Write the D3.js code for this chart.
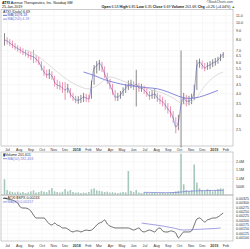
<!DOCTYPE html>
<html>
<head>
<meta charset="utf-8">
<script src="https://cdn.jsdelivr.net/npm/d3@7"></script>
<style>
  body { margin: 0; background: #fff; }
  svg { display: block; font-family: "Liberation Sans", Arial, sans-serif; }
</style>
</head>
<body>
<div id="chart"></div>
<script>
// weekly bars, first week ending 2017-06-23
const firstWeek = new Date(2017, 5, 23);

const close = [8.01, 7.91, 7.71, 7.51, 7.32, 7.18, 7.04, 6.86, 6.77, 6.60,
  6.52, 6.43, 6.27, 6.03, 5.65, 5.30, 5.10, 5.17, 5.04, 4.66,
  4.48, 4.43, 4.31, 4.20, 4.31, 3.99, 3.84, 3.69, 3.69, 3.74,
  3.84, 3.79, 3.74, 4.54, 5.58, 5.73, 5.95, 5.65, 5.17, 4.78,
  4.48, 4.15, 3.84, 3.84, 3.94, 4.15, 4.31, 4.48, 4.54, 4.43,
  4.54, 4.31, 4.31, 4.20, 4.04, 3.89, 3.94, 3.99, 3.79, 3.69,
  3.60, 3.46, 3.29, 3.16, 2.93, 2.61, 2.78, 3.46, 3.79, 3.64,
  3.64, 3.74, 4.10, 5.73, 6.03, 5.80, 5.58, 5.73, 5.80, 5.95,
  6.03, 6.19, 6.43, 6.69];
const high = [8.75, 8.30, 8.10, 7.95, 7.70, 7.50, 7.35, 7.20, 7.05, 6.95,
  6.90, 7.05, 6.60, 6.45, 6.10, 5.75, 5.45, 5.50, 5.35, 5.05,
  4.80, 4.70, 4.65, 4.66, 4.55, 4.30, 4.05, 3.90, 3.88, 3.95,
  4.05, 4.00, 3.95, 4.75, 5.80, 6.10, 6.20, 6.05, 5.70, 5.25,
  4.85, 4.55, 4.20, 4.05, 4.15, 4.35, 4.55, 4.75, 4.80, 4.70,
  5.45, 4.60, 4.55, 4.45, 4.30, 4.15, 4.20, 4.25, 4.05, 3.95,
  3.85, 3.70, 3.55, 3.40, 3.20, 2.95, 3.05, 7.00, 4.05, 3.95,
  3.90, 4.00, 4.50, 6.20, 6.30, 6.15, 5.95, 6.00, 6.10, 6.25,
  6.35, 6.45, 6.70, 6.85];
const low = [7.45, 7.55, 7.40, 7.20, 7.05, 6.90, 6.75, 6.60, 6.50, 6.35,
  6.20, 5.95, 6.00, 5.80, 5.40, 5.05, 4.90, 4.85, 4.80, 4.40,
  4.25, 4.20, 4.05, 3.70, 4.05, 3.80, 3.65, 3.55, 3.52, 3.55,
  3.60, 3.60, 3.58, 3.75, 4.50, 5.20, 5.40, 5.30, 4.90, 4.55,
  4.25, 3.95, 3.65, 3.65, 3.75, 3.90, 4.05, 4.20, 4.30, 4.20,
  3.40, 4.10, 4.10, 4.00, 3.85, 3.70, 3.75, 3.75, 3.60, 3.50,
  3.40, 3.25, 3.10, 2.95, 2.75, 2.40, 2.50, 2.00, 3.50, 3.40,
  3.45, 3.50, 3.70, 4.20, 5.60, 5.50, 5.35, 5.45, 5.50, 5.65,
  5.75, 5.90, 6.10, 6.35];
// volume in millions
const volume = [0.95, 0.30, 0.22, 0.18, 0.15, 0.20, 0.14, 0.18, 0.12, 0.16,
  0.22, 0.28, 0.15, 0.18, 0.25, 0.20, 0.17, 0.30, 0.42, 0.22,
  0.18, 0.15, 0.20, 0.35, 0.22, 0.30, 0.18, 0.14, 0.16, 0.12,
  0.15, 0.13, 0.18, 0.35, 0.40, 0.28, 0.25, 0.22, 0.18, 0.20,
  0.15, 0.17, 0.14, 0.12, 0.15, 0.18, 0.16, 1.45, 0.25, 0.18,
  0.30, 0.15, 0.12, 0.18, 0.14, 0.10, 0.12, 0.15, 0.10, 0.12,
  0.14, 0.11, 0.13, 0.15, 0.18, 0.22, 0.25, 2.50, 0.65, 0.30,
  0.25, 0.28, 1.85, 0.75, 0.40, 0.30, 0.25, 0.35, 0.30, 0.22,
  0.28, 0.35, 0.40, 0.38];
// ATXI:$SPX
const ratio = [0.00329, 0.00323, 0.00320, 0.00317, 0.00309, 0.00300, 0.00277, 0.00271, 0.00271, 0.00266,
  0.00254, 0.00231, 0.00214, 0.00214, 0.00214, 0.00214, 0.00197, 0.00180, 0.00174, 0.00185,
  0.00174, 0.00168, 0.00157, 0.00157, 0.00151, 0.00140, 0.00134, 0.00140, 0.00140, 0.00134,
  0.00140, 0.00145, 0.00142, 0.00145, 0.00157, 0.00174, 0.00185, 0.00191, 0.00203, 0.00180,
  0.00168, 0.00162, 0.00157, 0.00157, 0.00157, 0.00157, 0.00157, 0.00157, 0.00151, 0.00145,
  0.00151, 0.00157, 0.00140, 0.00134, 0.00140, 0.00145, 0.00140, 0.00134, 0.00151, 0.00157,
  0.00140, 0.00134, 0.00134, 0.00140, 0.00137, 0.00128, 0.00100, 0.00117, 0.00134, 0.00134,
  0.00134, 0.00140, 0.00174, 0.00208, 0.00214, 0.00203, 0.00191, 0.00203, 0.00208, 0.00214,
  0.00214, 0.00220, 0.00231, 0.00243];

// moving averages, sampled at given week numbers
const maLongWeeks = [30, 34, 38, 42, 46, 50, 54, 58, 62, 66, 70, 74, 78, 81];
const maLong = [5.30, 5.07, 4.80, 4.62, 4.48, 4.40, 4.33, 4.27, 4.10, 3.88, 3.77, 3.84, 4.02, 4.18];
const maMidWeeks = [8, 12, 16, 20, 24, 28, 32, 36, 40, 44, 48, 52, 56, 60, 64, 68, 72, 76, 80, 83];
const maMid = [7.04, 6.60, 5.95, 5.30, 4.78, 4.43, 4.26, 4.54, 4.97, 4.78, 4.54, 4.37, 4.20, 4.04, 3.79, 3.51, 3.69, 4.43, 5.04, 5.30];
const volMaWeeks = [53, 57, 61, 65, 69, 73, 77, 81, 83];
const volMa = [0.16, 0.15, 0.14, 0.15, 0.22, 0.25, 0.27, 0.28, 0.28];
const ratioMaWeeks = [52, 56, 60, 64, 68, 72, 76, 80, 82];
const ratioMa = [0.00185, 0.00177, 0.00168, 0.00157, 0.00145, 0.00148, 0.00151, 0.00154, 0.00157];

const priceTicks = [11, 10, 9, 8, 7, 6.5, 6, 5.5, 5, 4.5, 4, 3.5, 3, 2.5];
const volTicks = [0.5, 1, 1.5, 2];
const volTickLabels = ['500K', '1.0M', '1.5M', '2.0M'];
const ratioTicks = [0.001, 0.00125, 0.0015, 0.00175, 0.002, 0.00225, 0.0025, 0.00275, 0.003, 0.00325];

const W = 250, H = 249;
const left = 1, right = 233;
const fs = 3.6;
const red = '#e8769a', dark = '#6a6a6a', navy = '#4a4ab0', purple = '#7a7ad8';

const week = (i) => d3.timeWeek.offset(firstWeek, i);

const x = d3.scaleTime()
  .domain([new Date(2017, 5, 19), new Date(2019, 1, 20)])
  .range([3, 233]);
const yP = d3.scaleLog().domain([2.04, 11.8]).range([146, 10]);
const yV = d3.scaleLinear().domain([0, 2.6]).range([195, 152]);
const yR = d3.scaleLinear().domain([0.00088, 0.0034]).range([240, 196]);

const svg = d3.select('#chart').append('svg')
  .attr('width', W)
  .attr('height', H);

const months = d3.timeMonth.range(new Date(2017, 6, 1), new Date(2019, 2, 1));

// panels + grid
const panels = [[9.5, 146], [152, 195], [195, 241]];
panels.forEach(([t, b]) => {
  svg.append('g').selectAll('line').data(months).join('line')
    .attr('x1', d => x(d)).attr('x2', d => x(d))
    .attr('y1', t).attr('y2', b)
    .attr('stroke', '#f1f1f1').attr('stroke-width', 0.5);
});
const hgrid = (ticks, sc) => svg.append('g').selectAll('line').data(ticks).join('line')
  .attr('x1', left).attr('x2', right)
  .attr('y1', d => sc(d)).attr('y2', d => sc(d))
  .attr('stroke', '#f1f1f1').attr('stroke-width', 0.5);
hgrid(priceTicks, yP);
hgrid(volTicks, yV);
hgrid(ratioTicks, yR);

panels.forEach(([t, b]) => {
  svg.append('rect')
    .attr('x', left).attr('y', t)
    .attr('width', right - left).attr('height', b - t)
    .attr('fill', 'none').attr('stroke', '#999').attr('stroke-width', 0.5);
});

// month labels
const monthLabels = (yPos) => svg.append('g').selectAll('text').data(months).join('text')
  .attr('x', d => x(d)).attr('y', yPos)
  .attr('text-anchor', 'middle')
  .attr('font-size', fs)
  .attr('font-weight', d => (d.getMonth() === 0 ? 'bold' : 'normal'))
  .attr('fill', '#333')
  .text(d => (d.getMonth() === 0 ? d3.timeFormat('%Y')(d) : d3.timeFormat('%b')(d)));
monthLabels(150.5);
monthLabels(246.5);

// right axis labels
const rightLabels = (ticks, sc, fmt) => svg.append('g').selectAll('text').data(ticks).join('text')
  .attr('x', 236).attr('y', d => sc(d) + 1.2)
  .attr('font-size', fs).attr('fill', '#333')
  .text(fmt);
rightLabels(priceTicks, yP, d3.format('.1f'));
rightLabels(volTicks, yV, (d, i) => volTickLabels[i]);
rightLabels(ratioTicks, yR, d3.format('.5f'));

// price bars
const idx = d3.range(close.length);
svg.append('g').selectAll('line').data(idx).join('line')
  .attr('x1', i => x(week(i))).attr('x2', i => x(week(i)))
  .attr('y1', i => yP(high[i])).attr('y2', i => yP(low[i]))
  .attr('stroke', i => (i > 0 && close[i] < close[i - 1] ? red : dark))
  .attr('stroke-width', 0.8);

const lineFrom = (weeks, vals, sc) => d3.line()
  .x((d, k) => x(week(weeks[k])))
  .y(d => sc(d))
  .curve(d3.curveMonotoneX)(vals);

svg.append('path')
  .attr('d', lineFrom(maMidWeeks, maMid, yP))
  .attr('fill', 'none').attr('stroke', '#cfcfcf').attr('stroke-width', 0.7);
svg.append('path')
  .attr('d', lineFrom(idx, close, yP))
  .attr('fill', 'none').attr('stroke', navy).attr('stroke-width', 0.5);
svg.append('path')
  .attr('d', lineFrom(maLongWeeks, maLong, yP))
  .attr('fill', 'none').attr('stroke', purple).attr('stroke-width', 0.9);

// volume
svg.append('g').selectAll('rect').data(idx).join('rect')
  .attr('x', i => x(week(i)) - 0.8)
  .attr('width', 1.6)
  .attr('y', i => yV(volume[i]))
  .attr('height', i => yV(0) - yV(volume[i]))
  .attr('fill', '#a6c8ba');
svg.append('path')
  .attr('d', lineFrom(volMaWeeks, volMa, yV))
  .attr('fill', 'none').attr('stroke', purple).attr('stroke-width', 0.7);

// ratio panel
svg.append('path')
  .attr('d', lineFrom(idx, ratio, yR))
  .attr('fill', 'none').attr('stroke', '#111').attr('stroke-width', 0.6);
svg.append('path')
  .attr('d', lineFrom(ratioMaWeeks, ratioMa, yR))
  .attr('fill', 'none').attr('stroke', purple).attr('stroke-width', 0.7);

// header
const head = svg.append('text').attr('x', 2).attr('y', 3.6).attr('font-size', fs).attr('fill', '#111');
head.append('tspan').attr('font-weight', 'bold').text('ATXI');
head.append('tspan').text(' Avenue Therapeutics, Inc.  Nasdaq GM');
svg.append('text').attr('x', 2).attr('y', 7.8).attr('font-size', fs).attr('fill', '#111').text('25-Jan-2019');
svg.append('text').attr('x', 233).attr('y', 3.2).attr('text-anchor', 'end')
  .attr('font-size', 3.2).attr('font-style', 'italic').attr('fill', '#444').text('©StockCharts.com');

const quote = [['Open', '6.53'], ['High', '6.85'], ['Low', '6.35'], ['Close', '6.69'],
  ['Volume', '201.6K'], ['Chg', '+0.26 (+4.04%)']];
const q = svg.append('text').attr('x', 235).attr('y', 7.8).attr('text-anchor', 'end')
  .attr('font-size', fs).attr('fill', '#111');
quote.forEach(([k, v]) => {
  q.append('tspan').attr('font-weight', 'bold').text(k + ' ');
  q.append('tspan').text(v + ' ');
});
q.append('tspan').attr('fill', '#2a8a2a').text('▲');

// legends
const legend = (yPos, color, label, withLine) => {
  if (withLine) {
    svg.append('line').attr('x1', 3).attr('x2', 7).attr('y1', yPos - 1.1).attr('y2', yPos - 1.1)
      .attr('stroke', color).attr('stroke-width', 0.8);
  }
  svg.append('text').attr('x', withLine ? 7.6 : 3).attr('y', yPos)
    .attr('font-size', fs).attr('fill', color).text(label);
};
legend(12.6, '#222', 'ATXI (Daily) 6.69', false);
legend(16.4, navy, 'MA(10) 6.18', true);
legend(20.2, purple, 'MA(200) 4.18', true);
legend(156.2, '#222', '▮Volume 201,611', false);
legend(159.8, purple, 'MA(50) 282,463', true);
legend(199.4, '#222', 'ATXI:$SPX 0.00243', true);
legend(203, purple, 'MA(50) 0.00157', true);
</script>
</body>
</html>
